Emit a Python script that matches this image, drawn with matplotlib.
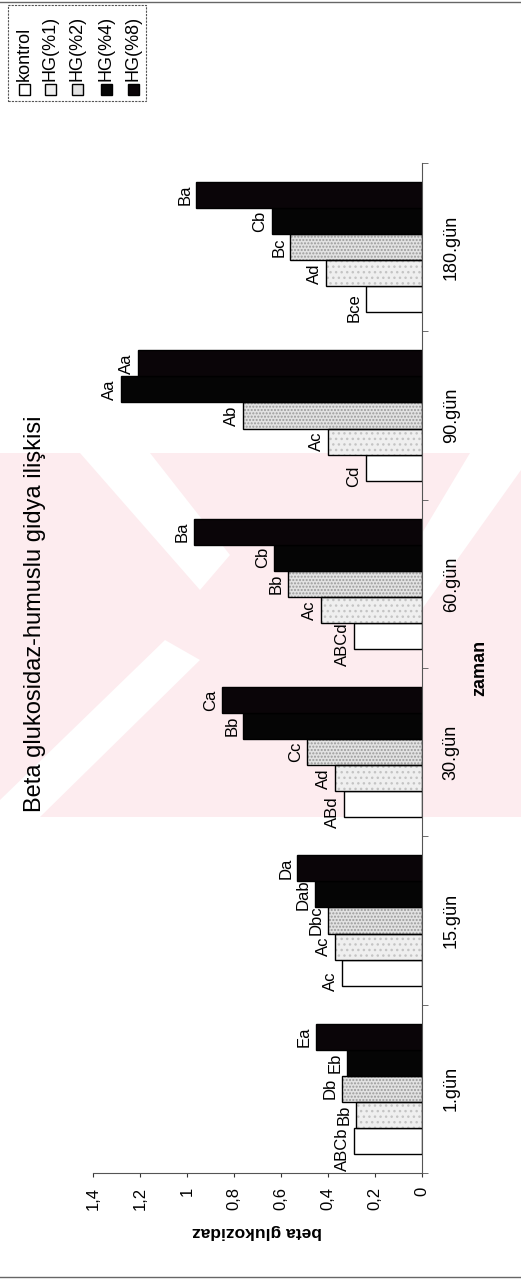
import numpy as np
import matplotlib
matplotlib.use("Agg")
import matplotlib.pyplot as plt
from matplotlib.patches import Rectangle, Polygon
from matplotlib.lines import Line2D
import matplotlib.ticker as mticker

plt.rcParams['font.family'] = ['Liberation Sans', 'DejaVu Sans']

# data
days = ["1.gün", "15.gün", "30.gün", "60.gün", "90.gün", "180.gün"]
series = ["kontrol", "HG(%1)", "HG(%2)", "HG(%4)", "HG(%8)"]

kontrol = [0.29, 0.34, 0.33, 0.29, 0.24, 0.24]
hg1 = [0.28, 0.37, 0.37, 0.43, 0.40, 0.41]
hg2 = [0.34, 0.40, 0.49, 0.57, 0.76, 0.56]
hg4 = [0.32, 0.455, 0.76, 0.63, 1.28, 0.64]
hg8 = [0.45, 0.53, 0.85, 0.97, 1.21, 0.96]

letters_kontrol = ["ABCb", "Ac", "ABd", "ABCd", "Cd", "Bce"]
letters_hg1 = ["Bb", "Ac", "Ad", "Ac", "Ac", "Ad"]
letters_hg2 = ["Db", "Dbc", "Cc", "Bb", "Ab", "Bc"]
letters_hg4 = ["Eb", "Dab", "Bb", "Cb", "Aa", "Cb"]
letters_hg8 = ["Ea", "Da", "Ca", "Ba", "Aa", "Ba"]

values = [kontrol, hg1, hg2, hg4, hg8]
letters = [letters_kontrol, letters_hg1, letters_hg2, letters_hg4, letters_hg8]

# fill, hatch, hatch colour per series
faces = ["white", "#efefef", "#e2e2e2", "#050505", "#0a0508"]
hatches = [None, "...", ".....", None, None]
hatch_cols = [None, "#c4c4c4", "#9a9a9a", None, None]
label_dy = [-6, 0, 0, 0, 0]   # kontrol letters sit a little low in the original

W, H = 521, 1280
fig = plt.figure(figsize=(W / 100, H / 100), dpi=100)


def fx(x):
    return x / W


def fy(y):
    return 1 - y / H


# pale watermark band behind the chart
fig.patches.append(Rectangle((0, fy(817)), 1, (817 - 453) / H, transform=fig.transFigure,
                             facecolor="#fdecef", edgecolor="none", zorder=-2))
for pts in ([(80, 453), (150, 453), (230, 555), (200, 590)],
            [(165, 640), (200, 660), (40, 817), (0, 817), (0, 800)],
            [(470, 453), (521, 453), (521, 470), (400, 640), (370, 620)]):
    fig.patches.append(Polygon([(fx(x), fy(y)) for x, y in pts], closed=True,
                               transform=fig.transFigure, facecolor="white",
                               edgecolor="none", zorder=-1))

ax = fig.add_axes([fx(93), fy(1173), fx(422) - fx(93), (1173 - 163) / H])
ax.set_facecolor("none")

pos = np.arange(len(days))
bh = 0.155
for j, (name, vals) in enumerate(zip(series, values)):
    y = pos + (j - 2) * bh
    if hatches[j]:
        ax.barh(y, vals, height=bh, color=faces[j], hatch=hatches[j],
                edgecolor=hatch_cols[j], linewidth=0, zorder=2)
        ax.barh(y, vals, height=bh, fill=False, edgecolor="black", linewidth=1, zorder=3)
    else:
        ax.barh(y, vals, height=bh, color=faces[j], edgecolor="black", linewidth=1, zorder=2)
    for yi, v, lab in zip(y, vals, letters[j]):
        ax.annotate(lab, (v, yi), xytext=(-3, label_dy[j]), textcoords="offset points",
                    rotation=90, ha="right", va="center", fontsize=12)

ax.set_xlim(1.4, 0)
ax.set_ylim(-0.5, len(days) - 0.5)

ax.set_xticks(np.arange(0, 1.41, 0.2))
ax.xaxis.set_major_formatter(mticker.FuncFormatter(lambda v, _p: f"{round(v, 1):g}".replace(".", ",")))
ax.tick_params(axis="x", labelrotation=90, labelsize=12, length=3, pad=7, color="#333333")

ax.yaxis.tick_right()
ax.set_yticks(pos)
ax.set_yticklabels(days, rotation=90, va="center")
ax.set_yticks(np.arange(-0.5, len(days), 1), minor=True)
ax.tick_params(axis="y", which="major", length=0, labelsize=13, pad=15)
ax.tick_params(axis="y", which="minor", length=4, right=True, left=False, color="#555555")

for s in ("left", "top"):
    ax.spines[s].set_visible(False)
for s in ("right", "bottom"):
    ax.spines[s].set_color("#555555")
    ax.spines[s].set_linewidth(0.8)

ax.set_xlabel("beta glukozidaz", rotation=180, fontsize=12.5, fontweight="bold")
ax.xaxis.set_label_coords(0.5, -0.058)
ax.xaxis.label.set_verticalalignment("center")

ax.yaxis.set_label_position("right")
ax.set_ylabel("zaman", rotation=90, fontsize=13, fontweight="bold")
ax.yaxis.set_label_coords(1.176, 0.5)
ax.yaxis.label.set_verticalalignment("center")

ax.text(-0.176, 0.5535, "Beta glukosidaz-humuslu gidya ilişkisi", transform=ax.transAxes,
        rotation=90, ha="center", va="center", fontsize=17)

# legend drawn by hand, rotated like the rest of the chart
fig.patches.append(Rectangle((fx(8), fy(101)), fx(146) - fx(8), (101 - 5) / H,
                             transform=fig.transFigure, facecolor="white",
                             edgecolor="#555555", linewidth=0.8, linestyle=(0, (2, 1)), zorder=4))
leg_x = [24, 50, 77, 106, 133]
for j, name in enumerate(series):
    sq = 11
    fig.patches.append(Rectangle((fx(leg_x[j] - sq / 2), fy(89 + sq / 2)), sq / W, sq / H,
                                 transform=fig.transFigure, facecolor=faces[j],
                                 edgecolor="black", linewidth=1, zorder=5))
    fig.text(fx(leg_x[j]), fy(81), name, rotation=90, ha="center", va="bottom",
             fontsize=13, zorder=6)

# scan frame lines
fig.add_artist(Line2D([0, 1], [fy(2), fy(2)], color="#666666", lw=1))
fig.add_artist(Line2D([0, 1], [fy(1277), fy(1277)], color="#666666", lw=1))

fig.savefig("out.png", dpi=100)
